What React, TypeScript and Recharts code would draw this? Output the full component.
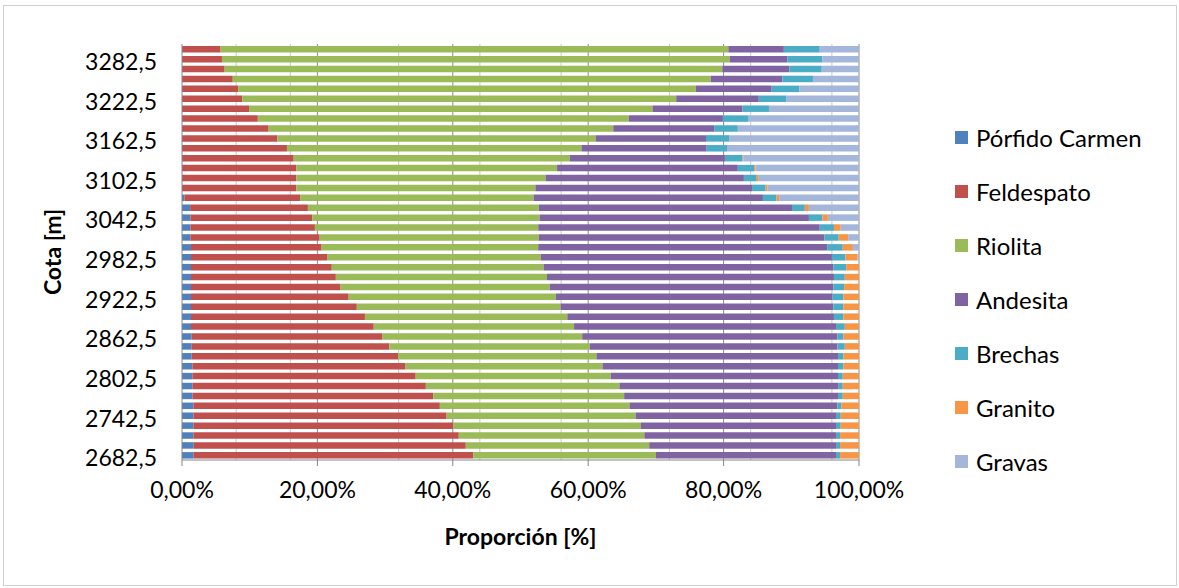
import { BarChart, Bar, XAxis, YAxis, CartesianGrid } from 'recharts';

// elevation bins, bottom (2682,5) to top (3297,5)
const cotas = [
  '2682,5', '2697,5', '2712,5', '2727,5', '2742,5', '2757,5', '2772,5', '2787,5',
  '2802,5', '2817,5', '2832,5', '2847,5', '2862,5', '2877,5', '2892,5', '2907,5',
  '2922,5', '2937,5', '2952,5', '2967,5', '2982,5', '2997,5', '3012,5', '3027,5',
  '3042,5', '3057,5', '3072,5', '3087,5', '3102,5', '3117,5', '3132,5', '3147,5',
  '3162,5', '3177,5', '3192,5', '3207,5', '3222,5', '3237,5', '3252,5', '3267,5',
  '3282,5', '3297,5',
];

// share of each lithology per bin (%)
const porfidoCarmen = [
  1.73, 1.73, 1.68, 1.68, 1.68, 1.68, 1.53, 1.53, 1.53, 1.53, 1.43, 1.43, 1.43, 1.33,
  1.33, 1.33, 1.33, 1.33, 1.33, 1.33, 1.33, 1.33, 1.24, 1.24, 1.24, 1.2, 0.35, 0,
  0, 0, 0, 0, 0, 0, 0, 0, 0, 0, 0, 0, 0, 0,
];
const feldespato = [
  41.3, 40.2, 39.2, 38.4, 37.4, 36.4, 35.6, 34.5, 33.0, 31.5, 30.5, 29.2, 28.2, 27.0,
  25.7, 24.5, 23.3, 22.1, 21.4, 20.8, 20.1, 19.3, 19.1, 18.4, 18.0, 17.4, 17.1, 16.9,
  16.9, 16.9, 16.5, 15.5, 14.1, 12.8, 11.2, 9.9, 8.9, 8.3, 7.5, 6.3, 5.9, 5.7,
];
const riolita = [
  27.0, 27.1, 27.4, 27.7, 27.9, 28.0, 28.2, 28.6, 28.8, 29.1, 29.3, 29.6, 29.5, 29.6,
  29.9, 30.1, 30.6, 30.9, 31.2, 31.3, 31.6, 32.0, 32.4, 33.0, 33.6, 34.1, 34.5, 35.3,
  36.8, 38.5, 40.8, 43.5, 47.0, 50.9, 54.8, 59.6, 64.1, 67.6, 70.6, 73.5, 75.0, 75.0,
];
const andesita = [
  26.6, 27.6, 28.3, 28.8, 29.6, 30.7, 31.6, 32.4, 33.6, 34.8, 35.7, 36.6, 37.7, 38.7,
  39.4, 40.3, 40.9, 41.9, 42.4, 42.8, 43.0, 42.7, 42.2, 41.6, 39.8, 37.4, 33.9, 32.0,
  29.3, 26.7, 22.9, 18.5, 16.3, 14.9, 13.9, 13.3, 12.2, 11.2, 10.6, 9.9, 8.5, 8.2,
];
const brechas = [
  0.6, 0.6, 0.6, 0.7, 0.7, 0.6, 0.7, 0.6, 0.7, 0.8, 0.8, 1.1, 0.9, 1.3,
  1.4, 1.5, 1.6, 1.6, 1.6, 1.9, 2.0, 2.3, 2.1, 2.1, 2.0, 1.9, 2.0, 2.0,
  1.9, 2.4, 2.6, 3.0, 3.4, 3.5, 3.8, 3.9, 4.1, 4.1, 4.5, 4.8, 5.2, 5.3,
];
const granito = [
  2.8, 2.8, 2.8, 2.7, 2.7, 2.6, 2.4, 2.4, 2.4, 2.3, 2.3, 2.1, 2.3, 2.1,
  2.3, 2.3, 2.3, 2.2, 2.1, 1.9, 1.8, 1.5, 1.4, 1.0, 0.8, 0.6, 0.4, 0.3,
  0.3, 0.2, 0.1, 0, 0, 0, 0, 0, 0, 0, 0, 0, 0, 0,
];
const gravas = [
  0, 0, 0, 0, 0, 0, 0, 0, 0, 0, 0, 0, 0, 0,
  0, 0, 0, 0, 0, 0, 0.2, 0.9, 1.6, 2.7, 4.6, 7.4, 11.8, 13.5,
  14.8, 15.3, 17.1, 19.5, 19.2, 17.9, 16.3, 13.3, 10.7, 8.8, 6.8, 5.5, 5.4, 5.8,
];

const xTicks = [0, 0.2, 0.4, 0.6, 0.8, 1];
const minorGrid = [
  0.04, 0.08, 0.12, 0.16, 0.24, 0.28, 0.32, 0.36, 0.44, 0.48, 0.52, 0.56,
  0.64, 0.68, 0.72, 0.76, 0.84, 0.88, 0.92, 0.96,
];
const majorGrid = [0.2, 0.4, 0.6, 0.8, 1];

const series = [
  { key: 'porfido', name: 'Pórfido Carmen', color: '#4F81BD', values: porfidoCarmen },
  { key: 'feldespato', name: 'Feldespato', color: '#C0504D', values: feldespato },
  { key: 'riolita', name: 'Riolita', color: '#9BBB59', values: riolita },
  { key: 'andesita', name: 'Andesita', color: '#8064A2', values: andesita },
  { key: 'brechas', name: 'Brechas', color: '#4BACC6', values: brechas },
  { key: 'granito', name: 'Granito', color: '#F79646', values: granito },
  { key: 'gravas', name: 'Gravas', color: '#A4B7DB', values: gravas },
];

const data = cotas.map((cota, i) => {
  const row: Record<string, string | number> = { cota };
  series.forEach((s) => {
    row[s.key] = s.values[i];
  });
  return row;
});

const FONT = 'Lato, Calibri, "Open Sans", sans-serif';
const AXIS = '#868686';

const pct = (v: number) => (v * 100).toFixed(2).replace('.', ',') + '%';

export default function App() {
  return (
    <div style={{ position: 'absolute', left: 0, top: 0, width: 1179, height: 588, background: '#fff', fontFamily: FONT }}>
      <div style={{ position: 'absolute', left: 3, top: 5, width: 1172, height: 579, border: '1px solid #D0D0D0' }} />

      <BarChart
        width={1179}
        height={588}
        data={data}
        layout="vertical"
        stackOffset="expand"
        margin={{ top: 44, right: 320, bottom: 88, left: 82 }}
        style={{ position: 'absolute', left: 0, top: 0 }}
      >
        <CartesianGrid horizontal={false} verticalValues={minorGrid} stroke="#C9C9C9" />
        <CartesianGrid horizontal={false} verticalValues={majorGrid} stroke="#8C8C8C" />
        <XAxis
          type="number"
          domain={[0, 1]}
          ticks={xTicks}
          tickFormatter={pct}
          height={40}
          axisLine={{ stroke: AXIS }}
          tickLine={{ stroke: AXIS }}
          tickSize={6}
          tickMargin={16}
          tick={{ fill: '#000', fontSize: 23, fontFamily: FONT }}
        />
        <YAxis
          type="category"
          dataKey="cota"
          reversed
          interval={3}
          width={100}
          axisLine={{ stroke: AXIS }}
          tickLine={false}
          tickSize={0}
          tickMargin={25}
          tick={{ fill: '#000', fontSize: 23, fontFamily: FONT, dy: 3 }}
        />
        {series.map((s) => (
          <Bar key={s.key} dataKey={s.key} name={s.name} stackId="lito" fill={s.color} barSize={6.5} isAnimationActive={false} />
        ))}
      </BarChart>

      <div style={{ position: 'absolute', left: 0, top: 522, width: 1041, textAlign: 'center', fontSize: 23, fontWeight: 700, color: '#000' }}>
        Proporción [%]
      </div>
      <div
        style={{
          position: 'absolute',
          left: 52,
          top: 252,
          transform: 'translate(-50%, -50%) rotate(-90deg)',
          fontSize: 23,
          fontWeight: 700,
          color: '#000',
          whiteSpace: 'nowrap',
        }}
      >
        Cota [m]
      </div>

      {series.map((s, i) => (
        <div
          key={s.key}
          style={{ position: 'absolute', left: 955, top: 122 + i * 54, height: 30, display: 'flex', alignItems: 'center', fontSize: 24, color: '#000' }}
        >
          <span style={{ width: 13, height: 13, background: s.color, marginRight: 8, display: 'inline-block' }} />
          {s.name}
        </div>
      ))}
    </div>
  );
}
